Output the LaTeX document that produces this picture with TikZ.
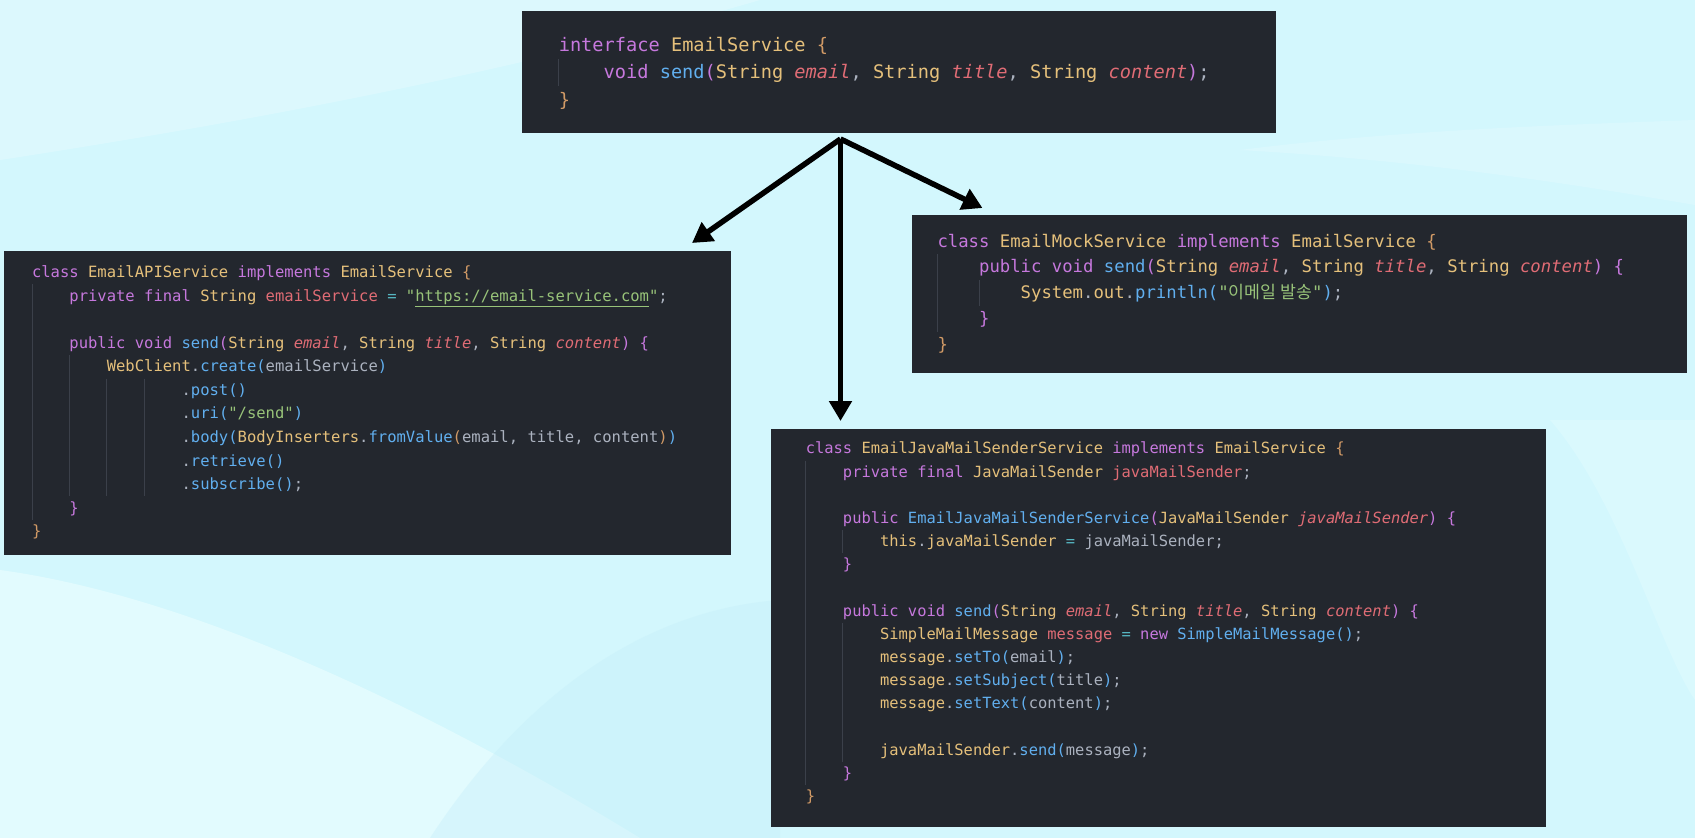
\documentclass[tikz,border=0pt]{standalone}
\usepackage{fontspec}
\usetikzlibrary{arrows.meta}
\newfontfamily\codefont{DejaVu Sans Mono}[ItalicFont={DejaVu Sans Mono Oblique}]
\newfontfamily\krfont{Noto Sans CJK KR}
\definecolor{bgc}{HTML}{D3F7FD}
\definecolor{bglight}{HTML}{F0FFFF}
\definecolor{bgblue}{HTML}{C4EEF9}
\definecolor{panel}{HTML}{23272E}
\definecolor{ckw}{HTML}{C678DD}
\definecolor{cty}{HTML}{E5C07B}
\definecolor{cfn}{HTML}{61AFEF}
\definecolor{cpa}{HTML}{E06C75}
\definecolor{cst}{HTML}{98C379}
\definecolor{cop}{HTML}{56B6C2}
\definecolor{cpl}{HTML}{ABB2BF}
\definecolor{cbo}{HTML}{D19A66}
\definecolor{cgd}{HTML}{3B404A}
\newcommand\cKw[1]{\textcolor{ckw}{#1}}
\newcommand\cTy[1]{\textcolor{cty}{#1}}
\newcommand\cFn[1]{\textcolor{cfn}{#1}}
\newcommand\cPa[1]{\textcolor{cpa}{\itshape #1}}
\newcommand\cVa[1]{\textcolor{cpa}{#1}}
\newcommand\cSt[1]{\textcolor{cst}{#1}}
\newcommand\cOp[1]{\textcolor{cop}{#1}}
\newcommand\cBo[1]{\textcolor{cbo}{#1}}
\newcommand\cBp[1]{\textcolor{ckw}{#1}}
\newcommand\cBb[1]{\textcolor{cfn}{#1}}
\newcommand\setpanel[5]{\def\bxX{#1}\def\bxY{#2}\def\bxS{#3}\def\bxC{#4}\def\bxF{#5}}
\newcommand\cl[4]{%
  \pgfmathsetmacro\clx{\bxX+#3*\bxC}%
  \pgfmathsetmacro\cly{\bxY+(#2-1)*\bxS+0.32*\bxF}%
  \node[codetxt,anchor=base west] (#1) at (\clx,\cly) {#4};}
\newcommand\guide[3]{%
  \pgfmathsetmacro\gx{\bxX+#1*\bxC}%
  \pgfmathsetmacro\gya{\bxY+(#2-1.5)*\bxS}%
  \pgfmathsetmacro\gyb{\bxY+(#3-0.5)*\bxS}%
  \draw[guideline] (\gx,\gya) -- (\gx,\gyb);}
\tikzset{
  codebox/.style={fill=panel,draw=none,inner sep=0,outer sep=0,anchor=north west},
  codetxt/.style={font=\codefont\fontsize{\bxF}{\bxF}\selectfont\frenchspacing,text=cpl,inner sep=0,outer sep=0},
  guideline/.style={draw=cgd,line width=1pt},
  arr/.style={draw=black,line width=5.5pt,-{Triangle[length=20pt,width=22pt]}}
}
\begin{document}
\begin{tikzpicture}[x=1pt,y=-1pt]
\useasboundingbox (0,0) rectangle (1695,838);
% background
\fill[bgc] (0,0) rectangle (1695,838);
\fill[white,opacity=0.22] (0,0) -- (760,0) .. controls (520,70) and (260,120) .. (0,160) -- cycle;
\fill[white,opacity=0.18] (1240,150) .. controls (1420,160) and (1580,185) .. (1695,205) -- (1695,120) .. controls (1560,125) and (1400,130) .. (1240,150) -- cycle;
\fill[bglight,opacity=0.55] (0,570) .. controls (220,600) and (480,740) .. (640,838) -- (0,838) -- cycle;
\fill[bgblue,opacity=0.4] (430,838) .. controls (520,700) and (640,610) .. (780,600) -- (780,838) -- cycle;
\fill[bglight,opacity=0.25] (1550,420) .. controls (1620,500) and (1660,650) .. (1695,700) -- (1695,420) -- cycle;

% panels
\node[codebox,minimum width=754.5pt,minimum height=122pt] (topbox) at (521.5,11) {};
\node[codebox,minimum width=727pt,minimum height=304pt] (apibox) at (4,251) {};
\node[codebox,minimum width=775pt,minimum height=158pt] (mockbox) at (912,215) {};
\node[codebox,minimum width=775pt,minimum height=398pt] (javabox) at (771,429) {};

% top panel
\setpanel{558.8}{45.5}{27.3}{11.22}{18.64}
\guide{0}{2}{2}
\cl{t1}{1}{0}{\cKw{interface} \cTy{EmailService} \cBo{\{}}
\cl{t2}{2}{4}{\cKw{void} \cFn{send}\cBp{(}\cTy{String} \cPa{email}, \cTy{String} \cPa{title}, \cTy{String} \cPa{content}\cBp{)};}
\cl{t3}{3}{0}{\cBo{\}}}

% EmailAPIService panel
\setpanel{32}{272.7}{23.55}{9.35}{15.53}
\guide{0}{2}{11}
\guide{4}{5}{10}
\guide{8}{6}{10}
\guide{12}{6}{10}
\cl{a1}{1}{0}{\cKw{class} \cTy{EmailAPIService} \cKw{implements} \cTy{EmailService} \cBo{\{}}
\cl{a2}{2}{4}{\cKw{private} \cKw{final} \cTy{String} \cVa{emailService} \cOp{=} \cSt{"\underline{https://email-service.com}"};}
\cl{a4}{4}{4}{\cKw{public} \cKw{void} \cFn{send}\cBp{(}\cTy{String} \cPa{email}, \cTy{String} \cPa{title}, \cTy{String} \cPa{content}\cBp{)} \cBp{\{}}
\cl{a5}{5}{8}{\cTy{WebClient}.\cFn{create}\cBb{(}emailService\cBb{)}}
\cl{a6}{6}{16}{.\cFn{post}\cBb{()}}
\cl{a7}{7}{16}{.\cFn{uri}\cBb{(}\cSt{"/send"}\cBb{)}}
\cl{a8}{8}{16}{.\cFn{body}\cBb{(}\cTy{BodyInserters}.\cFn{fromValue}\cBo{(}email, title, content\cBo{)}\cBb{)}}
\cl{a9}{9}{16}{.\cFn{retrieve}\cBb{()}}
\cl{a10}{10}{16}{.\cFn{subscribe}\cBb{()};}
\cl{a11}{11}{4}{\cBp{\}}}
\cl{a12}{12}{0}{\cBo{\}}}

% EmailMockService panel
\setpanel{937.5}{241.5}{25.9}{10.4}{17.28}
\guide{0}{2}{4}
\guide{4}{3}{3}
\cl{m1}{1}{0}{\cKw{class} \cTy{EmailMockService} \cKw{implements} \cTy{EmailService} \cBo{\{}}
\cl{m2}{2}{4}{\cKw{public} \cKw{void} \cFn{send}\cBp{(}\cTy{String} \cPa{email}, \cTy{String} \cPa{title}, \cTy{String} \cPa{content}\cBp{)} \cBp{\{}}
\cl{m3}{3}{8}{\cTy{System}.\cTy{out}.\cFn{println}\cBb{(}\cSt{"{\krfont 이메일 발송}"}\cBb{)};}
\cl{m4}{4}{4}{\cBp{\}}}
\cl{m5}{5}{0}{\cBo{\}}}

% EmailJavaMailSenderService panel
\setpanel{805.8}{449}{23.18}{9.29}{15.43}
\guide{0}{2}{15}
\guide{4}{5}{5}
\guide{4}{9}{14}
\cl{j1}{1}{0}{\cKw{class} \cTy{EmailJavaMailSenderService} \cKw{implements} \cTy{EmailService} \cBo{\{}}
\cl{j2}{2}{4}{\cKw{private} \cKw{final} \cTy{JavaMailSender} \cVa{javaMailSender};}
\cl{j4}{4}{4}{\cKw{public} \cFn{EmailJavaMailSenderService}\cBp{(}\cTy{JavaMailSender} \cPa{javaMailSender}\cBp{)} \cBp{\{}}
\cl{j5}{5}{8}{\cTy{this}.\cTy{javaMailSender} \cOp{=} javaMailSender;}
\cl{j6}{6}{4}{\cBp{\}}}
\cl{j8}{8}{4}{\cKw{public} \cKw{void} \cFn{send}\cBp{(}\cTy{String} \cPa{email}, \cTy{String} \cPa{title}, \cTy{String} \cPa{content}\cBp{)} \cBp{\{}}
\cl{j9}{9}{8}{\cTy{SimpleMailMessage} \cVa{message} \cOp{=} \cKw{new} \cFn{SimpleMailMessage}\cBb{()};}
\cl{j10}{10}{8}{\cTy{message}.\cFn{setTo}\cBb{(}email\cBb{)};}
\cl{j11}{11}{8}{\cTy{message}.\cFn{setSubject}\cBb{(}title\cBb{)};}
\cl{j12}{12}{8}{\cTy{message}.\cFn{setText}\cBb{(}content\cBb{)};}
\cl{j14}{14}{8}{\cTy{javaMailSender}.\cFn{send}\cBb{(}message\cBb{)};}
\cl{j15}{15}{4}{\cBp{\}}}
\cl{j16}{16}{0}{\cBo{\}}}

% arrows
\coordinate (hub) at (840.5,139);
\coordinate (tipA) at (692,243);
\coordinate (tipM) at (982.5,208);
\coordinate (tipJ) at (840.5,421);
\draw[arr] (hub) -- (tipA);
\draw[arr] (hub) -- (tipM);
\draw[arr] (hub) -- (tipJ);
\end{tikzpicture}
\end{document}
